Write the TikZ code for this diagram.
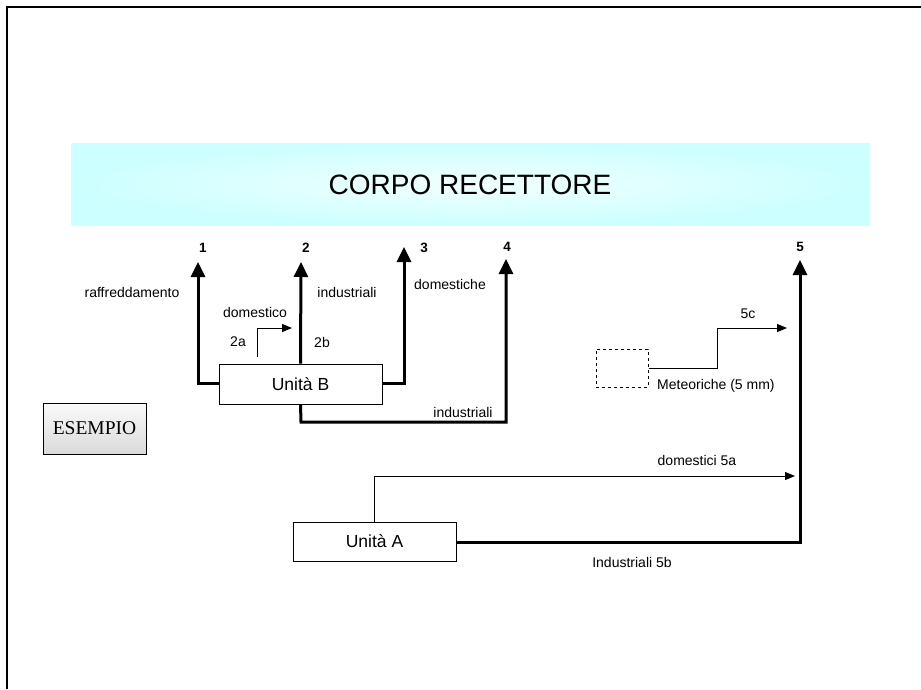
\documentclass[tikz,border=0pt]{standalone}
\usepackage{fontspec}
\setmainfont{Liberation Sans}
\newfontfamily\serifrm{Liberation Serif}
\usetikzlibrary{arrows.meta}
\begin{document}
\begin{tikzpicture}[x=1pt,y=-1pt,
  thickarrow/.style={line width=3pt,-{Triangle[width=14pt,length=15pt]}},
  thinarrow/.style={line width=1pt,-{Triangle[width=8pt,length=10pt]}},
  unitbox/.style={draw,line width=0.8pt,fill=white,minimum width=163pt,minimum height=40pt,inner sep=0pt,font=\fontsize{17.5}{20}\selectfont},
  lbl/.style={font=\fontsize{14}{16}\selectfont,inner sep=0pt},
  numlbl/.style={font=\fontsize{13.5}{15}\selectfont\bfseries,inner sep=0pt}]
\useasboundingbox (0,0) rectangle (921,689);
\fill[white] (0,0) rectangle (921,689);
% frame
\draw[line width=1.8pt] (7,689) -- (7,7) -- (921,7);
% band
\shade[inner color={rgb,255:red,242;green,255;blue,255},outer color={rgb,255:red,204;green,255;blue,255}] (71.5,143) rectangle (870,225);
\node[font=\fontsize{28}{32}\selectfont,inner sep=0pt] (title) at (470,185) {CORPO RECETTORE};
% ESEMPIO
\node[draw,line width=0.8pt,minimum width=103pt,minimum height=51pt,inner sep=0pt,
  top color={rgb,255:red,250;green,250;blue,250},bottom color={rgb,255:red,218;green,218;blue,218},
  font=\serifrm\fontsize{19.5}{22}\selectfont] (es) at (94.5,428.5) {ESEMPIO};
% units
\node[unitbox] (B) at (300.5,384) {Unità B};
\node[unitbox,minimum height=39pt] (A) at (374.5,541.5) {Unità A};
\node[draw,dashed,line width=1pt,minimum width=52pt,minimum height=38pt,inner sep=0pt] (dash) at (622,368) {};
% target coordinates
\coordinate (t1) at (198,262);
\coordinate (t2) at (301,262);
\coordinate (t3) at (404,247);
\coordinate (t4) at (506,259);
\coordinate (t5) at (800,260);
% thick arrows
\draw[thickarrow] (B.west |- 0,383) -| (t1);
\draw[thickarrow] (B.north) -- (t2);
\draw[thickarrow] (B.east |- 0,383) -| (t3);
\draw[thickarrow] (B.south) -- (301,422) -| (t4);
\draw[thickarrow] (A.east |- 0,542) -| (t5);
% thin arrows
\coordinate (s2a) at (257,357);
\coordinate (e2a) at (292,328);
\draw[thinarrow] (s2a) |- (e2a);
\coordinate (e5c) at (787,328);
\draw[thinarrow] (dash.east) -- (717,368) |- (e5c);
\coordinate (e5a) at (795,476);
\draw[thinarrow] (A.north) -- (374.5,476) -- (e5a);
% number labels
\node[numlbl] (n1) at (203,248) {1};
\node[numlbl] (n2) at (306,248) {2};
\node[numlbl] (n3) at (424,248) {3};
\node[numlbl] (n4) at (507,247) {4};
\node[numlbl] (n5) at (800,247) {5};
% text labels
\node[lbl] (l1) at (132,292) {raffreddamento};
\node[lbl] (l2) at (255,312) {domestico};
\node[lbl] (l3) at (238,342) {2a};
\node[lbl] (l4) at (322,342) {2b};
\node[lbl] (l5) at (347,292) {industriali};
\node[lbl] (l6) at (450,284) {domestiche};
\node[lbl] (l7) at (463,412) {industriali};
\node[lbl] (l8) at (748,314) {5c};
\node[lbl,anchor=west] (l9) at (657,386) {Meteoriche (5 mm)};
\node[lbl] (l10) at (697,460) {domestici 5a};
\node[lbl] (l11) at (632,562) {Industriali 5b};
\end{tikzpicture}
\end{document}
